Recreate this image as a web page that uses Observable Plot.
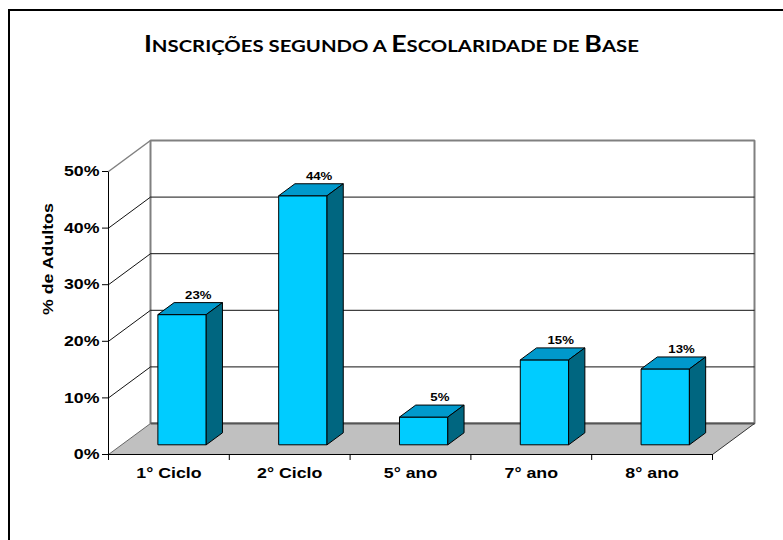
<!DOCTYPE html>
<html><head><meta charset="utf-8">
<script src="https://cdn.jsdelivr.net/npm/d3@7"></script>
<script src="https://cdn.jsdelivr.net/npm/@observablehq/plot@0.6"></script>
<style>
body{margin:0;background:#fff;}
#wrap{position:relative;width:783px;height:540px;overflow:hidden;background:#fff;}
#frame{position:absolute;left:8px;top:9px;width:2000px;height:2000px;border:2px solid #000;box-sizing:border-box;}
#title{position:absolute;left:0;top:32px;width:783px;text-align:center;}
#title #t{display:inline-block;font-family:Lato,"Open Sans",sans-serif;font-weight:700;font-size:23.5px;line-height:1;transform-origin:center;color:#000;white-space:nowrap;}
#title .sc{text-transform:uppercase;font-size:0.76em;}
#chart{position:absolute;left:0;top:0;}
</style></head><body>
<div id="wrap"><div id="frame"></div><div id="title"><span id="t">I<span class="sc">nscrições segundo a </span>E<span class="sc">scolaridade de </span>B<span class="sc">ase</span></span></div><div id="chart"></div></div>
<script>
const categories = ["1° Ciclo", "2° Ciclo", "5° ano", "7° ano", "8° ano"];
const values = [23, 44, 4.9, 15, 13.4];
const yTicks = [0, 10, 20, 30, 40, 50];
const yLabel = "% de Adultos";

const W = 783, H = 540, mL = 108, mR = 71, mT = 171, mB = 86;
const n = categories.length, yMax = yTicks[yTicks.length - 1];
const pxPerCat = (W - mL - mR) / n, pxPerPct = (H - mT - mB) / yMax;
const depthPx = [42, -31];
const DX = depthPx[0] / pxPerCat, DY = -depthPx[1] / pxPerPct;
const P = (x, y, z) => ({x: x + z * DX, y: y + z * DY});
const zF = 0.313, zB = 0.70, b0 = 0.30, b1 = 0.70;
const poly = (id, pts) => pts.map(p => ({id, ...P(p[0], p[1], p[2])}));

const rows = categories.map((c, i) => ({c, i, v: values[i]}));
const frontFaces = rows.flatMap(d => poly(d.i, [[d.i+b0,0,zF],[d.i+b1,0,zF],[d.i+b1,d.v,zF],[d.i+b0,d.v,zF]]));
const topFaces = rows.flatMap(d => poly(d.i, [[d.i+b0,d.v,zF],[d.i+b1,d.v,zF],[d.i+b1,d.v,zB],[d.i+b0,d.v,zB]]));
const sideFaces = rows.flatMap(d => poly(d.i, [[d.i+b1,0,zF],[d.i+b1,0,zB],[d.i+b1,d.v,zB],[d.i+b1,d.v,zF]]));
const backWall = poly(0, [[0,0,1],[n,0,1],[n,yMax,1],[0,yMax,1]]);
const floorPoly = poly(0, [[0,0,0],[n,0,0],[n,0,1],[0,0,1]]);
const seg = (a, b) => ({a: P(...a), b: P(...b)});
const wallGrid = yTicks.filter(t => t > 0 && t < yMax).map(t => seg([0,t,1],[n,t,1]));
const leftDiag = yTicks.filter(t => t > 0 && t < yMax).map(t => seg([0,t,0],[0,t,1]));
const linkOpts = (stroke, w) => ({x1: d => d.a.x, y1: d => d.a.y, x2: d => d.b.x, y2: d => d.b.y, stroke, strokeWidth: w});
const polyOpts = (fill, stroke, w) => ({x: "x", y: "y", z: "id", curve: "linear-closed", fill, stroke, strokeWidth: w, strokeLinejoin: "miter", strokeLinecap: "butt"});

const chart = Plot.plot({
  width: W, height: H,
  marginLeft: mL, marginRight: mR, marginTop: mT, marginBottom: mB,
  x: {domain: [0, n]},
  y: {domain: [0, yMax]},
  style: {fontFamily: "'Liberation Sans', Arial, sans-serif", fontSize: "14.8px", fontWeight: "bold", background: "transparent", overflow: "visible", color: "#000"},
  marks: [
    Plot.line(backWall, polyOpts("#fff", "#808080", 2)),
    Plot.link(wallGrid, linkOpts("#111", 1)),
    Plot.link([seg([0,yMax,0],[0,yMax,1])], linkOpts("#808080", 1.5)),
    Plot.link(leftDiag, linkOpts("#111", 1)),
    Plot.line(floorPoly, polyOpts("#c0c0c0", "none", 0)),
    Plot.link([seg([0,0,1],[n,0,1])], linkOpts("#555", 2)),
    Plot.link([seg([0,0,0],[0,0,1])], linkOpts("#666", 1)),
    Plot.link([seg([n,0,0],[n,0,1])], linkOpts("#333", 1)),
    Plot.link([seg([0,0,0],[n,0,0])], linkOpts("#000", 1.2)),
    Plot.line(frontFaces, polyOpts("#00ccff", "#000", 1)),
    Plot.line(topFaces, polyOpts("#0099cc", "#000", 1)),
    Plot.line(sideFaces, polyOpts("#006680", "#000", 1)),
    Plot.link([seg([0,0,0],[0,yMax,0])], linkOpts("#000", 1)),
    Plot.axisY({ticks: yTicks, tickFormat: d => d + "%", tickSize: 6, tickPadding: 3, label: null}),
    Plot.axisX({ticks: d3.range(n + 1), tickFormat: () => "", tickSize: 6, label: null}),
    Plot.axisX({ticks: rows.map(d => d.i + 0.5), tickFormat: (d, k) => categories[k], tickSize: 0, tickPadding: 13, label: null}),
    Plot.text(rows, {x: d => P(d.i + 0.5, d.v, zB).x, y: d => P(d.i + 0.5, d.v, zB).y, text: d => Math.round(d.v) + "%", lineAnchor: "bottom", dy: -4, fontSize: 11, fontWeight: "bold", fill: "#000"}),
    Plot.text([yLabel], {frameAnchor: "left", rotate: -90, dx: -60, dy: 2, fontSize: 14.8, fontWeight: "bold", fill: "#000", ariaLabel: "axis-title"})
  ]
});
document.getElementById("chart").appendChild(chart);

// horizontal stretch of text (reference text is widened)
chart.querySelectorAll("text").forEach(t => {
  if (t.closest('g[aria-label="axis-title"]')) return;
  const len = t.getComputedTextLength();
  if (len > 0) { t.setAttribute("textLength", (len * 1.2).toFixed(1)); t.setAttribute("lengthAdjust", "spacingAndGlyphs"); }
});
const ts = document.getElementById("t");
const tw = ts.getBoundingClientRect().width;
ts.style.transform = `scaleX(${495 / tw})`;
</script>
</body></html>
